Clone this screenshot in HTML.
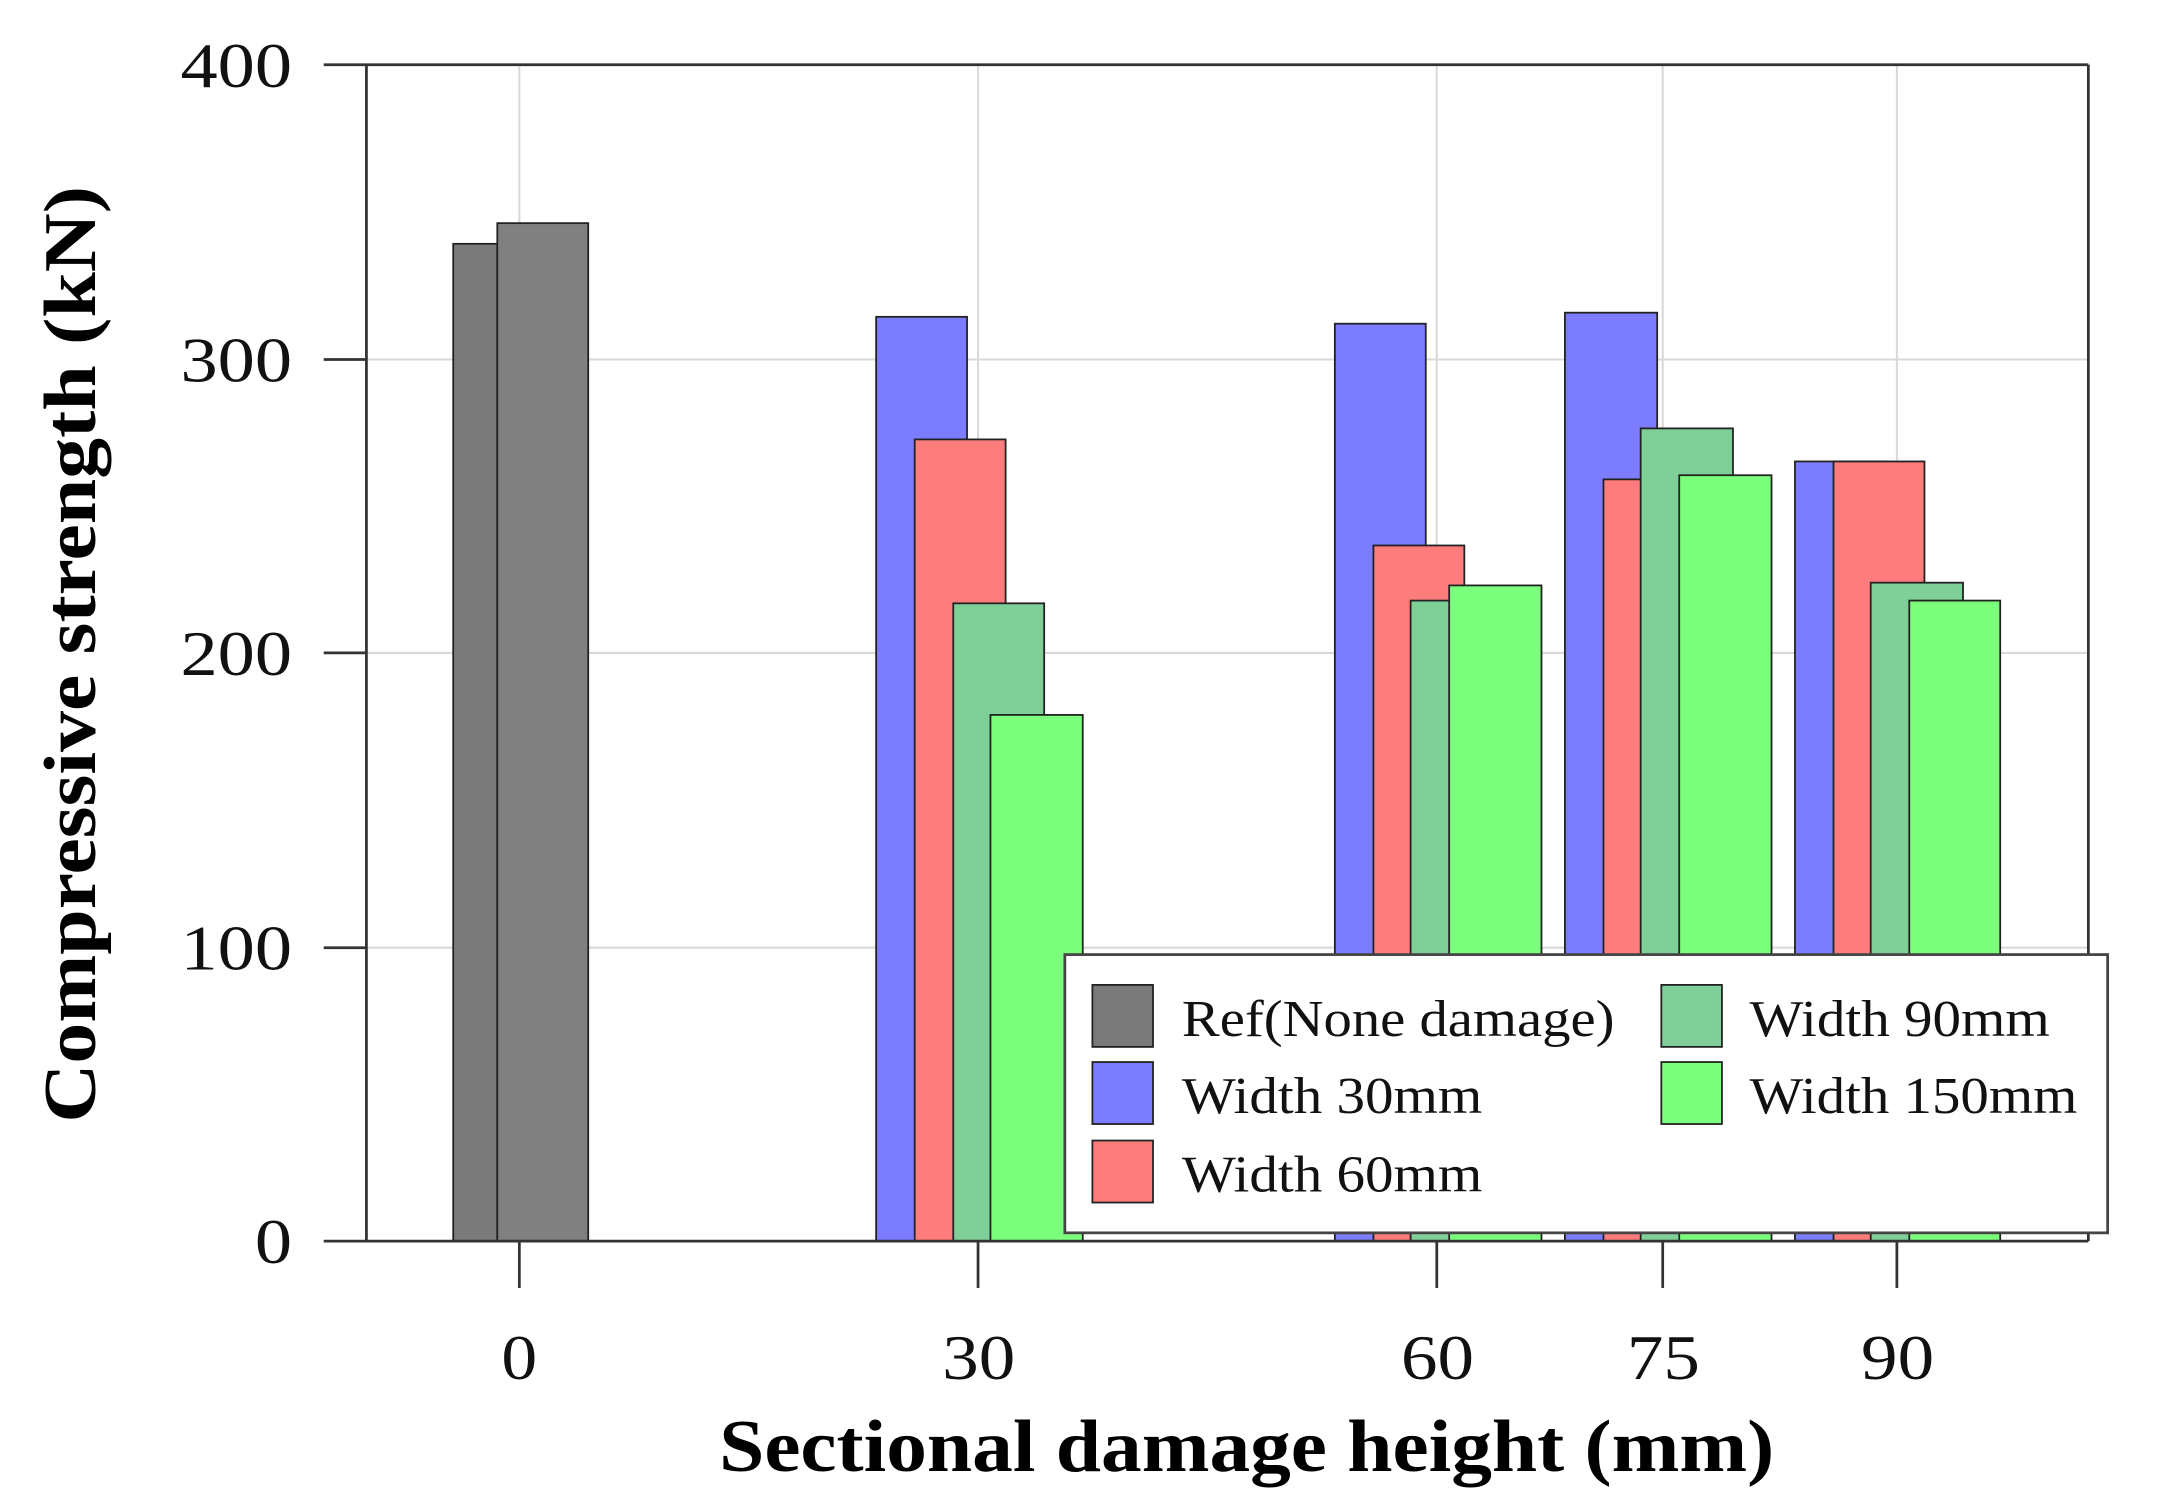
<!DOCTYPE html>
<html><head><style>html,body{margin:0;padding:0;background:#fff}svg{display:block}</style></head>
<body>
<svg width="2160" height="1506" viewBox="0 0 1568 1093.3" preserveAspectRatio="none" xmlns="http://www.w3.org/2000/svg" font-family="Liberation Serif, serif">
<rect width="1568" height="1094" fill="#fff"/>
<g stroke="#d9d9d9" stroke-width="1.5">
<line x1="377" y1="47" x2="377" y2="901"/><line x1="710" y1="47" x2="710" y2="901"/><line x1="1043" y1="47" x2="1043" y2="901"/><line x1="1207" y1="47" x2="1207" y2="901"/><line x1="1377" y1="47" x2="1377" y2="901"/>
<line x1="266" y1="261" x2="1516" y2="261"/><line x1="266" y1="474" x2="1516" y2="474"/><line x1="266" y1="688" x2="1516" y2="688"/>
</g>
<g stroke="#222" stroke-width="1.3">
<rect x="329" y="177" width="32" height="724" fill="#7a7a7a"/>
<rect x="361" y="162" width="66" height="739" fill="#808080"/>
<rect x="636" y="230" width="66" height="671" fill="#7c7cff"/>
<rect x="664" y="319" width="66" height="582" fill="#ff7c7c"/>
<rect x="692" y="438" width="66" height="463" fill="#7fcf98"/>
<rect x="719" y="519" width="67" height="382" fill="#7cff7c"/>
<rect x="969" y="235" width="66" height="666" fill="#7c7cff"/>
<rect x="997" y="396" width="66" height="505" fill="#ff7c7c"/>
<rect x="1024" y="436" width="66" height="465" fill="#7fcf98"/>
<rect x="1052" y="425" width="67" height="476" fill="#7cff7c"/>
<rect x="1136" y="227" width="67" height="674" fill="#7c7cff"/>
<rect x="1164" y="348" width="66" height="553" fill="#ff7c7c"/>
<rect x="1191" y="311" width="67" height="590" fill="#7fcf98"/>
<rect x="1219" y="345" width="67" height="556" fill="#7cff7c"/>
<rect x="1303" y="335" width="66" height="566" fill="#7c7cff"/>
<rect x="1331" y="335" width="66" height="566" fill="#ff7c7c"/>
<rect x="1358" y="423" width="67" height="478" fill="#7fcf98"/>
<rect x="1386" y="436" width="66" height="465" fill="#7cff7c"/>
</g>
<g stroke="#333" stroke-width="2" fill="none">
<line x1="235" y1="47" x2="1516" y2="47"/><line x1="1516" y1="47" x2="1516" y2="901"/>
<line x1="235" y1="901" x2="1516" y2="901"/><line x1="266" y1="47" x2="266" y2="901"/>
<line x1="235" y1="261" x2="266" y2="261"/><line x1="235" y1="474" x2="266" y2="474"/><line x1="235" y1="688" x2="266" y2="688"/>
<line x1="377" y1="901" x2="377" y2="935"/><line x1="710" y1="901" x2="710" y2="935"/><line x1="1043" y1="901" x2="1043" y2="935"/><line x1="1207" y1="901" x2="1207" y2="935"/><line x1="1377" y1="901" x2="1377" y2="935"/>
</g>
<g font-size="46" fill="#111">
<text x="131" y="63" textLength="81" lengthAdjust="spacingAndGlyphs">400</text>
<text x="131" y="277" textLength="81" lengthAdjust="spacingAndGlyphs">300</text>
<text x="131" y="490" textLength="81" lengthAdjust="spacingAndGlyphs">200</text>
<text x="131" y="704" textLength="81" lengthAdjust="spacingAndGlyphs">100</text>
<text x="185" y="917" textLength="27" lengthAdjust="spacingAndGlyphs">0</text>
</g>
<g font-size="46" fill="#111">
<text x="364" y="1001" textLength="26" lengthAdjust="spacingAndGlyphs">0</text>
<text x="684" y="1001" textLength="53" lengthAdjust="spacingAndGlyphs">30</text>
<text x="1017" y="1001" textLength="53" lengthAdjust="spacingAndGlyphs">60</text>
<text x="1181" y="1001" textLength="53" lengthAdjust="spacingAndGlyphs">75</text>
<text x="1351" y="1001" textLength="53" lengthAdjust="spacingAndGlyphs">90</text>
</g>
<text x="522" y="1068" font-size="54" font-weight="bold" textLength="766" lengthAdjust="spacingAndGlyphs">Sectional damage height (mm)</text>
<text transform="translate(69,815) rotate(-90)" font-size="54" font-weight="bold" textLength="680" lengthAdjust="spacingAndGlyphs">Compressive strength (kN)</text>
<rect x="773" y="693" width="757" height="202" fill="#fff" stroke="#444" stroke-width="2"/>
<g stroke="#222" stroke-width="1.3">
<rect x="793" y="715" width="44" height="45" fill="#7a7a7a"/>
<rect x="793" y="771" width="44" height="45" fill="#7c7cff"/>
<rect x="793" y="828" width="44" height="45" fill="#ff7c7c"/>
<rect x="1206" y="715" width="44" height="45" fill="#7fcf98"/>
<rect x="1206" y="771" width="44" height="45" fill="#7cff7c"/>
</g>
<g font-size="38" fill="#111">
<text x="858" y="752" textLength="314" lengthAdjust="spacingAndGlyphs">Ref(None damage)</text>
<text x="858" y="808" textLength="218" lengthAdjust="spacingAndGlyphs">Width 30mm</text>
<text x="858" y="865" textLength="218" lengthAdjust="spacingAndGlyphs">Width 60mm</text>
<text x="1270" y="752" textLength="218" lengthAdjust="spacingAndGlyphs">Width 90mm</text>
<text x="1270" y="808" textLength="238" lengthAdjust="spacingAndGlyphs">Width 150mm</text>
</g>
</svg>
</body></html>
